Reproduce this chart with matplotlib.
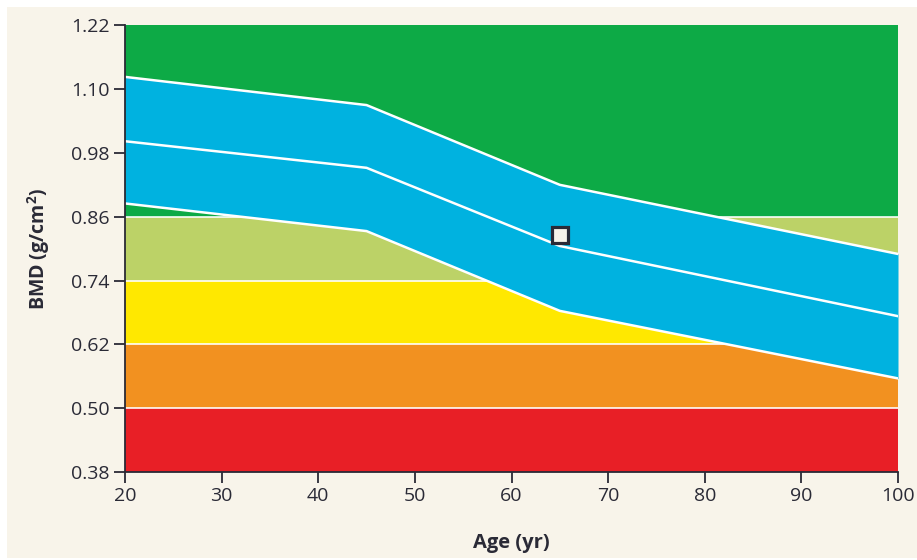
import matplotlib.pyplot as plt
from matplotlib.patches import Rectangle

plt.rcParams['font.family'] = ['Open Sans', 'DejaVu Sans']

# BMD categories (lower, upper bound, colour), bottom to top
zone_edges = [0.38, 0.50, 0.62, 0.74, 0.86, 1.22]
zone_colors = ['#e81f26', '#f29120', '#ffe800', '#bcd267', '#0daa46']

# reference curve: mean and +/- 1 SD by age
ages = [20, 45, 65, 100]
upper = [1.123, 1.070, 0.920, 0.790]
mean = [1.002, 0.952, 0.805, 0.673]
lower = [0.885, 0.833, 0.683, 0.556]

# patient measurement
patient_age = 65
patient_bmd = 0.825

yticks = [0.38, 0.50, 0.62, 0.74, 0.86, 0.98, 1.10, 1.22]

cream = '#f8f4ea'
ink = '#2a2a36'

fig = plt.figure(figsize=(9.17, 5.6), dpi=100)
fig.patch.set_facecolor('white')
fig.patches.append(Rectangle((7 / 917, 1 - 558 / 560), 910 / 917, 551 / 560,
                             transform=fig.transFigure, facecolor=cream,
                             edgecolor='none', zorder=-10))

ax = fig.add_axes([125 / 917, 1 - 472 / 560, 773 / 917, 446.7 / 560])
ax.set_zorder(1)
ax.set_facecolor(cream)

for i, c in enumerate(zone_colors):
    ax.fill_between([20, 100], zone_edges[i], zone_edges[i + 1], color=c, lw=0, zorder=1)
for y in zone_edges[1:-1]:
    ax.axhline(y, color='white', lw=1.3, alpha=0.9, zorder=2)

ax.fill_between(ages, lower, upper, color='#00b2e0', lw=0, zorder=3)
for line in (upper, mean, lower):
    ax.plot(ages, line, color='white', lw=1.8, zorder=4, solid_joinstyle='round')

ax.plot(patient_age, patient_bmd, marker='s', ms=11, mfc=cream, mec=ink, mew=2.3, zorder=5)

ax.set_xlim(20, 100)
ax.set_ylim(0.38, 1.22)
ax.set_xticks(range(20, 101, 10))
ax.set_yticks(yticks)
ax.set_yticklabels(['%.2f' % v for v in yticks])

for s in ('top', 'right'):
    ax.spines[s].set_visible(False)
for s in ('left', 'bottom'):
    ax.spines[s].set_color(ink)
    ax.spines[s].set_linewidth(1.3)
    ax.spines[s].set_zorder(6)

ax.tick_params(direction='out', length=8, width=1.3, color=ink,
               labelsize=14, labelcolor=ink, pad=3)

ax.set_xlabel('Age (yr)', fontsize=14.5, fontweight='bold', color=ink, labelpad=20)
ax.set_ylabel('BMD (g/cm$^\\mathregular{2}$)', fontsize=14, fontweight='bold',
              color=ink, labelpad=14)

fig.savefig('out.png', dpi=100, facecolor=fig.get_facecolor())
